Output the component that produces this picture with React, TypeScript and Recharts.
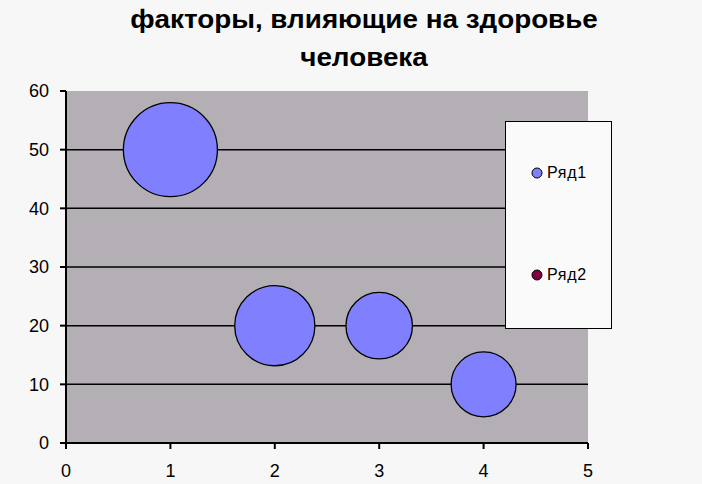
import { ScatterChart, Scatter, XAxis, YAxis, ZAxis, CartesianGrid } from 'recharts';

const titleLines = ['факторы, влияющие на здоровье', 'человека'];
const xValues = [1, 2, 3, 4];
const series1Y = [50, 20, 20, 10];
const series1Size = [22, 16, 11, 10.5];
const xTicks = [0, 1, 2, 3, 4, 5];
const yTicks = [0, 10, 20, 30, 40, 50, 60];
const seriesNames = ['Ряд1', 'Ряд2'];
const seriesColors = ['#8080ff', '#800040'];

const series1 = xValues.map((x, i) => ({ x, y: series1Y[i], z: series1Size[i] }));
const series2: { x: number; y: number; z: number }[] = [];

const font = '"Liberation Sans", Arial, sans-serif';

// legend sits over the right edge of the plot, like the Excel original
function LegendBox() {
  return (
    <div
      style={{
        position: 'absolute',
        left: 505,
        top: 121,
        width: 107,
        height: 208,
        boxSizing: 'border-box',
        border: '1.5px solid #000',
        background: '#fafafa',
      }}
    >
      {seriesNames.map((name, i) => (
        <div
          key={name}
          style={{
            position: 'absolute',
            left: 24,
            top: i === 0 ? 41 : 143,
            height: 20,
            display: 'flex',
            alignItems: 'center',
            fontFamily: font,
            fontSize: 16,
            color: '#000',
          }}
        >
          <svg width={14} height={14}>
            <circle cx={7} cy={7} r={5} fill={seriesColors[i]} stroke="#000" strokeWidth={1} />
          </svg>
          <span style={{ marginLeft: 3, letterSpacing: 0.7 }}>{name}</span>
        </div>
      ))}
    </div>
  );
}

export default function App() {
  return (
    <div
      style={{
        position: 'absolute',
        left: 0,
        top: 0,
        width: 702,
        height: 484,
        background: '#f7f7f7',
        overflow: 'hidden',
      }}
    >
      <div
        style={{
          position: 'absolute',
          left: 0,
          width: 728,
          top: 0,
          textAlign: 'center',
          fontFamily: font,
          fontWeight: 'bold',
          fontSize: 26,
          lineHeight: '38px',
          color: '#000',
          transform: 'scaleX(1.07)',
          transformOrigin: '364px 0',
        }}
      >
        {titleLines.map((t) => (
          <div key={t}>{t}</div>
        ))}
      </div>
      <ScatterChart width={702} height={484} margin={{ top: 91, right: 114, bottom: 0, left: 0 }}>
        <CartesianGrid
          fill="#b4afb4"
          stroke="#000"
          strokeWidth={1.5}
          vertical={false}
          horizontalValues={[10, 20, 30, 40, 50]}
        />
        <XAxis
          type="number"
          dataKey="x"
          domain={[0, 5]}
          ticks={xTicks}
          height={41}
          tickSize={6}
          tickMargin={15}
          stroke="#000"
          strokeWidth={2}
          tick={{ fill: '#000', fontSize: 18, fontFamily: font }}
        />
        <YAxis
          type="number"
          dataKey="y"
          domain={[0, 60]}
          ticks={yTicks}
          width={66}
          tickSize={6}
          tickMargin={11}
          stroke="#000"
          strokeWidth={2}
          tick={{ fill: '#000', fontSize: 18, fontFamily: font }}
        />
        <ZAxis type="number" dataKey="z" domain={[0, 22]} range={[0, 6940]} />
        <Scatter
          name={seriesNames[0]}
          data={series1}
          fill={seriesColors[0]}
          stroke="#000"
          strokeWidth={1.3}
          isAnimationActive={false}
        />
        <Scatter
          name={seriesNames[1]}
          data={series2}
          fill={seriesColors[1]}
          stroke="#000"
          isAnimationActive={false}
        />
      </ScatterChart>
      <LegendBox />
    </div>
  );
}
